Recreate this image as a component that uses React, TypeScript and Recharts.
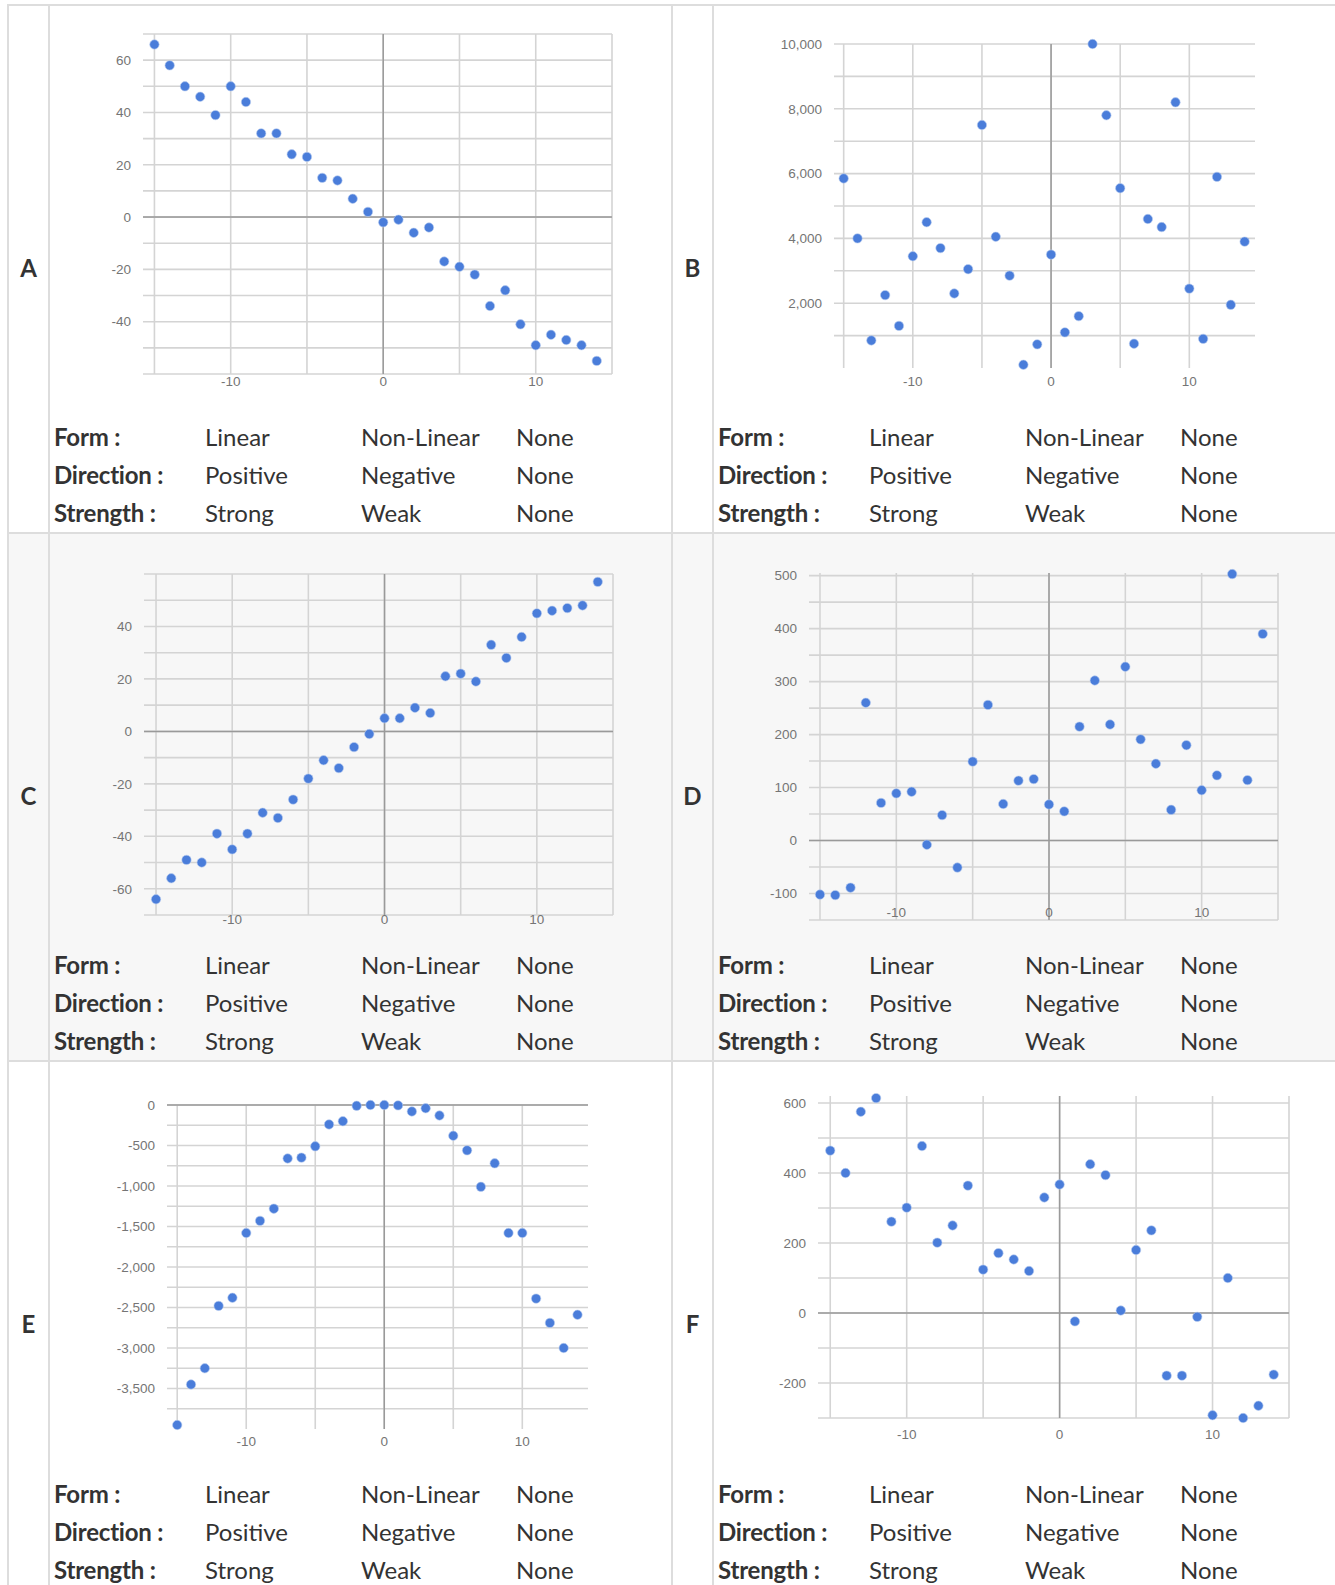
import { ScatterChart, Scatter, XAxis, YAxis, CartesianGrid, ReferenceLine } from "recharts";

// x positions shared by all six scatter plots
const X_VALUES = [-15, -14, -13, -12, -11, -10, -9, -8, -7, -6, -5, -4, -3, -2, -1, 0, 1, 2, 3, 4, 5, 6, 7, 8, 9, 10, 11, 12, 13, 14];
const X_TICKS = [-15, -10, -5, 0, 5, 10, 15];
const X_TICKS_OPEN = [-15, -10, -5, 0, 5, 10];
const X_LABELS = [-10, 0, 10];

// series values
const A_VALUES = [66, 58, 50, 46, 39, 50, 44, 32, 32, 24, 23, 15, 14, 7, 2, -2, -1, -6, -4, -17, -19, -22, -34, -28, -41, -49, -45, -47, -49, -55];
const B_VALUES = [5850, 4000, 850, 2250, 1300, 3450, 4500, 3700, 2300, 3050, 7500, 4050, 2850, 100, 730, 3500, 1100, 1600, 10000, 7800, 5550, 750, 4600, 4350, 8200, 2450, 900, 5900, 1950, 3900];
const C_VALUES = [-64, -56, -49, -50, -39, -45, -39, -31, -33, -26, -18, -11, -14, -6, -1, 5, 5, 9, 7, 21, 22, 19, 33, 28, 36, 45, 46, 47, 48, 57];
const D_VALUES = [-102, -103, -89, 260, 71, 89, 92, -8, 48, -51, 149, 256, 69, 113, 116, 68, 55, 215, 302, 219, 328, 191, 145, 58, 180, 95, 123, 503, 114, 390];
const E_VALUES = [-3950, -3450, -3250, -2480, -2380, -1580, -1430, -1280, -660, -650, -510, -240, -200, -10, 0, 0, -5, -80, -40, -130, -380, -560, -1010, -720, -1580, -1580, -2390, -2690, -3000, -2590];
const F_VALUES = [464, 400, 575, 614, 261, 301, 477, 201, 250, 364, 124, 171, 153, 120, 330, 367, -24, 425, 394, 7, 180, 236, -179, -179, -11, -292, 100, -300, -265, -176];

// y gridlines and labelled ticks
const A_Y_TICKS = [-60, -50, -40, -30, -20, -10, 0, 10, 20, 30, 40, 50, 60, 70];
const A_Y_LABELS = [-40, -20, 0, 20, 40, 60];
const B_Y_TICKS = [1000, 2000, 3000, 4000, 5000, 6000, 7000, 8000, 9000, 10000];
const B_Y_LABELS = [2000, 4000, 6000, 8000, 10000];
const C_Y_TICKS = [-70, -60, -50, -40, -30, -20, -10, 0, 10, 20, 30, 40, 50, 60];
const C_Y_LABELS = [-60, -40, -20, 0, 20, 40];
const D_Y_TICKS = [-150, -100, -50, 0, 50, 100, 150, 200, 250, 300, 350, 400, 450, 500];
const D_Y_LABELS = [-100, 0, 100, 200, 300, 400, 500];
const E_Y_TICKS = [-3750, -3500, -3250, -3000, -2750, -2500, -2250, -2000, -1750, -1500, -1250, -1000, -750, -500, -250, 0];
const E_Y_LABELS = [-3500, -3000, -2500, -2000, -1500, -1000, -500, 0];
const F_Y_TICKS = [-300, -200, -100, 0, 100, 200, 300, 400, 500, 600];
const F_Y_LABELS = [-200, 0, 200, 400, 600];

const ROW_NAMES = ["Form :", "Direction :", "Strength :"];
const ROW_OPTIONS = [
  ["Linear", "Non-Linear", "None"],
  ["Positive", "Negative", "None"],
  ["Strong", "Weak", "None"],
];

const panels = [
  { letter: "A", values: A_VALUES, xTicks: X_TICKS, yTicks: A_Y_TICKS, yLabels: A_Y_LABELS, yDomain: [-60, 70], xDomain: [-15.75, 15], box: { left: 143, top: 34, right: 612, bottom: 374 }, xGap: 2, zeroY: true },
  { letter: "B", values: B_VALUES, xTicks: X_TICKS_OPEN, yTicks: B_Y_TICKS, yLabels: B_Y_LABELS, yDomain: [0, 10000], xDomain: [-15.7, 14.75], box: { left: 834, top: 44, right: 1255, bottom: 368 }, xGap: 8, zeroY: false },
  { letter: "C", values: C_VALUES, xTicks: X_TICKS, yTicks: C_Y_TICKS, yLabels: C_Y_LABELS, yDomain: [-70, 60], xDomain: [-15.79, 15], box: { left: 144, top: 574, right: 613, bottom: 915 }, xGap: -1, zeroY: true },
  { letter: "D", values: D_VALUES, xTicks: X_TICKS, yTicks: D_Y_TICKS, yLabels: D_Y_LABELS, yDomain: [-150, 505], xDomain: [-15.72, 15], box: { left: 809, top: 573, right: 1278, bottom: 920 }, xGap: -13, zeroY: true },
  { letter: "E", values: E_VALUES, xTicks: X_TICKS_OPEN, yTicks: E_Y_TICKS, yLabels: E_Y_LABELS, yDomain: [-4000, 0], xDomain: [-15.74, 14.76], box: { left: 167, top: 1105, right: 588, bottom: 1429 }, xGap: 7, zeroY: true },
  { letter: "F", values: F_VALUES, xTicks: X_TICKS, yTicks: F_Y_TICKS, yLabels: F_Y_LABELS, yDomain: [-300, 620], xDomain: [-15.8, 15], box: { left: 818, top: 1096, right: 1289, bottom: 1418 }, xGap: 11, zeroY: true },
];

const BORDER = "#dddddd";
const TICK_STYLE = { fontSize: 13.5, fill: "#757575", fontFamily: "Arial, 'Liberation Sans', sans-serif" };

const dot = (p: any) => <circle cx={p.cx} cy={p.cy} r={4.7} fill="#4a7dda" stroke="#b9cdf0" strokeWidth={0.6} />;

function Panel({ cfg }: { cfg: any }) {
  const yW = 70;
  const pad = 10;
  const xH = 40;
  const plotW = cfg.box.right - cfg.box.left;
  const plotH = cfg.box.bottom - cfg.box.top;
  const points = X_VALUES.map((x, i) => ({ x, y: cfg.values[i] }));
  return (
    <div style={{ position: "absolute", left: cfg.box.left - yW, top: cfg.box.top - pad }}>
      <ScatterChart width={plotW + yW + pad} height={plotH + pad + xH} margin={{ top: pad, right: pad, bottom: 0, left: 0 }}>
        <CartesianGrid stroke="#d4d4d4" strokeWidth={1.6} syncWithTicks />
        <XAxis
          type="number"
          dataKey="x"
          domain={cfg.xDomain}
          ticks={cfg.xTicks}
          interval={0}
          tickFormatter={(v: number) => (X_LABELS.includes(v) ? String(v) : "")}
          axisLine={false}
          tickLine={false}
          tickSize={0}
          tickMargin={cfg.xGap}
          height={xH}
          tick={TICK_STYLE}
        />
        <YAxis
          type="number"
          dataKey="y"
          domain={cfg.yDomain}
          ticks={cfg.yTicks}
          interval={0}
          tickFormatter={(v: number) => (cfg.yLabels.includes(v) ? v.toLocaleString("en-US") : "")}
          axisLine={false}
          tickLine={false}
          tickSize={0}
          tickMargin={12}
          width={yW}
          tick={TICK_STYLE}
        />
        <ReferenceLine x={0} stroke="#9a9a9a" strokeWidth={1.5} />
        {cfg.zeroY && <ReferenceLine y={0} stroke="#9a9a9a" strokeWidth={1.5} />}
        <Scatter data={points} isAnimationActive={false} shape={dot} />
      </ScatterChart>
    </div>
  );
}

const COL_LINES = [7, 48, 671, 712];
const ROW_LINES = [4, 532, 1060];
const TEXT_OFFSETS = [6, 157, 313, 468];
const LINE_CENTERS = [434, 472, 510];

export default function App() {
  const font = "Lato, 'Noto Sans', sans-serif";
  return (
    <div style={{ position: "relative", width: 1335, height: 1585, overflow: "hidden", background: "#fff", fontFamily: font, color: "#333" }}>
      <style>{"body{margin:0}"}</style>
      <div style={{ position: "absolute", left: COL_LINES[0], top: ROW_LINES[1], width: 1335 - COL_LINES[0], height: ROW_LINES[2] - ROW_LINES[1], background: "#f7f7f7" }} />
      {COL_LINES.map((x) => (
        <div key={"c" + x} style={{ position: "absolute", left: x, top: ROW_LINES[0], width: 2, height: 1585, background: BORDER }} />
      ))}
      {ROW_LINES.map((y) => (
        <div key={"r" + y} style={{ position: "absolute", left: COL_LINES[0], top: y, width: 1335, height: 2, background: BORDER }} />
      ))}
      {panels.map((cfg, i) => {
        const row = Math.floor(i / 2);
        const rowTop = ROW_LINES[row] + (row === 2 ? 1.5 : 0);
        const right = i % 2 === 1;
        const letterLeft = right ? COL_LINES[2] + 2 : COL_LINES[0] + 2;
        const textLeft = right ? COL_LINES[3] : COL_LINES[1];
        return (
          <div key={cfg.letter}>
            <div style={{ position: "absolute", left: letterLeft, width: 39, top: ROW_LINES[row] + 265 - 16.5, textAlign: "center", fontSize: 24, lineHeight: "30px", fontWeight: 700 }}>{cfg.letter}</div>
            <Panel cfg={cfg} />
            {ROW_NAMES.map((name, r) => (
              <div key={name}>
                <div style={{ position: "absolute", left: textLeft + TEXT_OFFSETS[0], top: rowTop + LINE_CENTERS[r] - 16.5, fontSize: 24, lineHeight: "30px", fontWeight: 700, letterSpacing: -0.2, whiteSpace: "nowrap" }}>{name}</div>
                {ROW_OPTIONS[r].map((opt, k) => (
                  <div key={opt + k} style={{ position: "absolute", left: textLeft + TEXT_OFFSETS[k + 1], top: rowTop + LINE_CENTERS[r] - 16.5, fontSize: 24, lineHeight: "30px", whiteSpace: "nowrap" }}>{opt}</div>
                ))}
              </div>
            ))}
          </div>
        );
      })}
    </div>
  );
}
